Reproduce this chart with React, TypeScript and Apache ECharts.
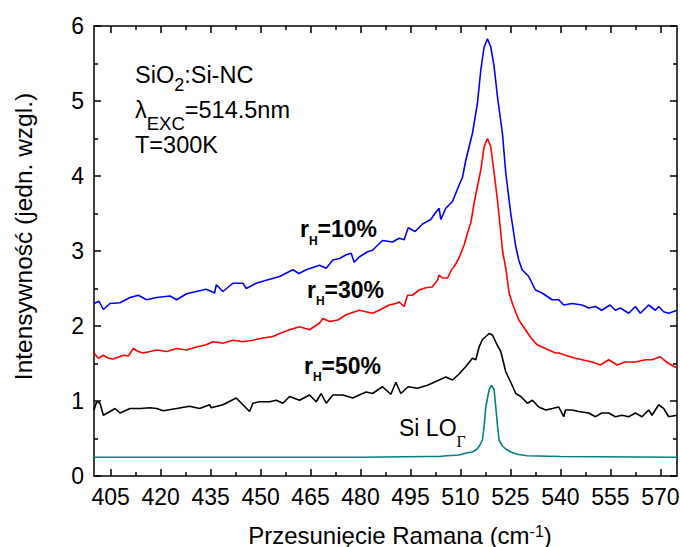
import React, { useEffect, useRef } from 'react';
import * as echarts from 'echarts';

const xTickLabels = [405, 420, 435, 450, 465, 480, 495, 510, 525, 540, 555, 570];
const xMinorTicks = [412.5, 427.5, 442.5, 457.5, 472.5, 487.5, 502.5, 517.5, 532.5, 547.5, 562.5];

const rH10: [number, number][] = [
  [400, 2.3], [401.5, 2.33], [402.8, 2.22], [404.8, 2.3], [407.8, 2.31], [410.8, 2.38], [413.3, 2.41],
  [415.8, 2.35], [418.8, 2.38], [422.8, 2.4], [424.8, 2.35], [427.8, 2.43], [430.7, 2.46], [433.7, 2.49],
  [436.2, 2.44], [436.7, 2.55], [438.7, 2.46], [441.7, 2.57], [444.7, 2.57], [445.7, 2.5], [448.7, 2.57],
  [451.7, 2.61], [455.7, 2.66], [459.7, 2.75], [461.5, 2.7], [463.7, 2.75], [467.7, 2.81], [469.7, 2.77],
  [471.7, 2.88], [473.7, 2.9], [475.7, 2.95], [477.2, 2.97], [478.1, 2.85], [479.6, 2.92], [482.1, 2.99],
  [483.6, 3.01], [486.6, 3.14], [489.6, 3.12], [491.6, 3.17], [493.1, 3.15], [494.3, 3.31], [496.4, 3.26],
  [498.6, 3.36], [501.1, 3.42], [502.3, 3.5], [503.6, 3.57], [504.1, 3.42], [505.6, 3.57], [507.6, 3.66],
  [509.6, 3.88], [510.6, 3.98], [511.6, 4.21], [513.6, 4.57], [515.1, 4.97], [516.1, 5.41], [517.1, 5.72],
  [518.1, 5.83], [519.1, 5.72], [520.1, 5.46], [521.1, 5.06], [522.6, 4.57], [523.6, 4.04], [525.1, 3.5],
  [526.6, 3.06], [527.5, 2.88], [528.5, 2.75], [530.5, 2.66], [532.5, 2.48], [534.5, 2.44], [537.5, 2.35],
  [539.5, 2.35], [541.0, 2.28], [543.5, 2.3], [546.5, 2.28], [548.5, 2.24], [550.5, 2.26], [552.4, 2.21],
  [554.9, 2.28], [556.5, 2.21], [558.0, 2.24], [560.5, 2.17], [562.5, 2.26], [564.0, 2.17], [566.5, 2.28],
  [568.5, 2.21], [569.5, 2.26], [571.0, 2.19], [572.5, 2.17], [575, 2.21]
];

const rH30: [number, number][] = [
  [400, 1.64], [401.3, 1.57], [402.8, 1.61], [404.3, 1.57], [405.8, 1.56], [408.8, 1.61], [410.3, 1.6],
  [411.8, 1.7], [413.3, 1.66], [414.8, 1.64], [418.8, 1.68], [421.8, 1.66], [424.8, 1.7], [427.8, 1.68],
  [430.7, 1.72], [433.7, 1.75], [435.7, 1.79], [438.7, 1.77], [441.7, 1.81], [444.7, 1.79], [447.7, 1.81],
  [450.7, 1.84], [453.7, 1.86], [455.7, 1.9], [458.7, 1.95], [461.7, 1.99], [464.7, 1.95], [467.7, 2.04],
  [468.7, 2.1], [470.7, 2.06], [473.2, 2.08], [475.7, 2.15], [479.6, 2.21], [483.6, 2.17], [485.6, 2.21],
  [488.6, 2.28], [490.6, 2.3], [491.6, 2.32], [493.1, 2.26], [494.1, 2.41], [495.6, 2.41], [497.6, 2.48],
  [499.6, 2.51], [501.5, 2.52], [503.1, 2.61], [503.6, 2.68], [504.6, 2.64], [506.1, 2.64], [507.6, 2.77],
  [508.1, 2.79], [509.6, 2.91], [511.1, 3.08], [512.1, 3.24], [513.1, 3.37], [514.1, 3.64], [515.1, 3.86],
  [516.1, 4.08], [517.1, 4.39], [518.1, 4.5], [519.1, 4.39], [520.1, 4.04], [521.1, 3.68], [522.1, 3.25],
  [522.6, 3.01], [523.6, 2.77], [524.6, 2.44], [525.6, 2.3], [527.5, 2.08], [529.5, 1.95], [531.2, 1.84],
  [533.0, 1.75], [534.5, 1.72], [536.5, 1.68], [538.5, 1.64], [539.5, 1.64], [541.5, 1.61], [544.5, 1.57],
  [546.5, 1.55], [549.5, 1.52], [552.0, 1.48], [554.5, 1.55], [557.0, 1.48], [559.5, 1.52], [562.5, 1.52],
  [565.5, 1.55], [567.5, 1.55], [570.0, 1.59], [571.0, 1.55], [572.5, 1.5], [575, 1.44]
];

const rH50: [number, number][] = [
  [400, 0.88], [400.8, 0.99], [401.8, 0.97], [402.8, 0.81], [404.8, 0.86], [406.3, 0.9], [407.8, 0.84],
  [410.8, 0.9], [413.8, 0.9], [416.8, 0.91], [418.8, 0.9], [420.8, 0.87], [424.8, 0.9], [428.7, 0.93],
  [431.7, 0.9], [434.7, 0.95], [435.2, 0.91], [438.7, 0.95], [442.7, 1.04], [444.7, 0.95], [446.7, 0.86],
  [447.7, 0.97], [449.7, 0.99], [452.7, 0.99], [454.7, 1.01], [456.7, 0.97], [458.7, 1.06], [461.7, 1.01],
  [464.7, 1.08], [466.7, 0.99], [468.2, 1.1], [469.7, 0.97], [471.7, 1.08], [474.7, 1.08], [477.7, 1.04],
  [479.6, 1.08], [481.7, 1.12], [483.6, 1.1], [486.6, 1.19], [489.1, 1.09], [490.6, 1.25], [492.1, 1.1],
  [494.3, 1.19], [497.1, 1.17], [500.1, 1.21], [502.6, 1.26], [503.6, 1.28], [505.6, 1.32], [507.6, 1.28],
  [509.6, 1.36], [511.6, 1.46], [513.6, 1.57], [514.6, 1.55], [515.6, 1.72], [516.6, 1.82], [518.6, 1.9],
  [519.6, 1.88], [521.1, 1.74], [522.1, 1.66], [523.6, 1.39], [525.1, 1.25], [526.6, 1.1], [528.1, 1.06],
  [530.1, 0.97], [531.6, 1.01], [533.5, 0.92], [535.6, 0.88], [537.6, 0.9], [539.5, 0.92], [541.0, 0.79],
  [541.5, 0.88], [543.5, 0.88], [545.5, 0.86], [548.5, 0.84], [550.5, 0.79], [552.4, 0.84], [554.5, 0.84],
  [556.5, 0.79], [558.5, 0.81], [560.5, 0.79], [562.5, 0.84], [564.5, 0.79], [566.5, 0.88], [567.5, 0.81],
  [569.5, 0.95], [571.0, 0.9], [572.5, 0.79], [575, 0.81]
];

const siRef: [number, number][] = [
  [400, 0.25], [440, 0.25], [480, 0.25], [500, 0.26], [503.6, 0.26], [506, 0.27], [509.6, 0.28],
  [512, 0.31], [513.6, 0.32], [515, 0.36], [515.8, 0.41], [516.6, 0.48], [517.1, 0.66], [517.6, 0.92],
  [518.6, 1.15], [519.3, 1.21], [520.1, 1.15], [520.6, 0.92], [521.1, 0.68], [521.6, 0.48], [522.6, 0.4],
  [523.6, 0.36], [525.1, 0.32], [527, 0.29], [530, 0.27], [540, 0.26], [575, 0.25]
];

const FONT = '"Liberation Sans", Arial, Helvetica, sans-serif';

export default function App() {
  const ref = useRef<HTMLDivElement>(null);
  useEffect(() => {
    const chart = echarts.init(ref.current as HTMLDivElement, null, { renderer: 'svg' });
    const rect = { left: 94, right: 3, top: 26, bottom: 71, containLabel: false, outerBoundsMode: 'none' };
    const line = { color: '#000', width: 1.5 };
    const majorTick = (vals: number[]) => ({ show: true, inside: true, length: 7, customValues: vals, lineStyle: line });
    const minorTickAx = (vals: number[]) => ({ show: true, inside: true, length: 4, customValues: vals, lineStyle: line });
    const labelFont = { fontSize: 23, color: '#000', fontFamily: FONT };

    const series = [
      { data: rH10, color: '#0000ff' },
      { data: rH30, color: '#ff0000' },
      { data: rH50, color: '#000000' },
      { data: siRef, color: '#008080' }
    ].map((s) => ({
      type: 'line',
      xAxisIndex: 0,
      yAxisIndex: 0,
      data: s.data,
      showSymbol: false,
      symbol: 'none',
      lineStyle: { color: s.color, width: 1.6 },
      itemStyle: { color: s.color },
      clip: true
    }));

    const text = (x: number, y: number, t: string, rich: any) => ({
      type: 'text',
      x,
      y,
      style: { text: t, rich, align: 'left', verticalAlign: 'middle', fill: '#000' }
    });

    const reg = (size: number, extra: any = {}) => ({ fontSize: size, fontFamily: FONT, color: '#000', ...extra });
    const bold = (size: number, extra: any = {}) => ({ fontSize: size, fontFamily: FONT, fontWeight: 'bold', color: '#000', ...extra });

    const option: any = {
      animation: false,
      backgroundColor: '#ffffff',
      grid: [rect, rect],
      xAxis: [
        {
          type: 'value', gridIndex: 0, position: 'bottom', min: 400, max: 575,
          axisLine: { show: true, onZero: false, lineStyle: line },
          axisTick: majorTick(xTickLabels),
          axisLabel: { show: true, customValues: xTickLabels, margin: 9, ...labelFont },
          splitLine: { show: false },
          name: 'Przesunięcie Ramana (cm{s|-1})',
          nameLocation: 'middle',
          nameGap: 49,
          nameTextStyle: {
            fontSize: 24, lineHeight: 20, fontFamily: FONT, color: '#000', padding: [0, 0, 0, 29],
            rich: { s: { fontSize: 16, lineHeight: 12, fontFamily: FONT, color: '#000', padding: [0, 0, 8, 0] } }
          }
        },
        {
          type: 'value', gridIndex: 0, position: 'top', min: 400, max: 575,
          axisLine: { show: true, onZero: false, lineStyle: line },
          axisTick: majorTick(xTickLabels),
          axisLabel: { show: false },
          splitLine: { show: false }
        },
        {
          type: 'value', gridIndex: 1, position: 'bottom', min: 400, max: 575,
          axisLine: { show: false },
          axisTick: minorTickAx(xMinorTicks),
          axisLabel: { show: false },
          splitLine: { show: false }
        },
        {
          type: 'value', gridIndex: 1, position: 'top', min: 400, max: 575,
          axisLine: { show: false },
          axisTick: minorTickAx(xMinorTicks),
          axisLabel: { show: false },
          splitLine: { show: false }
        }
      ],
      yAxis: [
        {
          type: 'value', gridIndex: 0, position: 'left', min: 0, max: 6, interval: 1,
          axisLine: { show: true, onZero: false, lineStyle: line },
          axisTick: { show: true, inside: true, length: 7, lineStyle: line },
          minorTick: { show: true, splitNumber: 2, length: 4, lineStyle: line },
          axisLabel: { show: true, margin: 10, ...labelFont },
          splitLine: { show: false },
          minorSplitLine: { show: false },
          name: 'Intensywność (jedn. wzgl.)',
          nameLocation: 'middle',
          nameGap: 58,
          nameRotate: 90,
          nameTextStyle: { fontSize: 24.5, fontFamily: FONT, color: '#000', padding: [0, 0, 0, 29] }
        },
        {
          type: 'value', gridIndex: 0, position: 'right', min: 0, max: 6, interval: 1,
          axisLine: { show: true, onZero: false, lineStyle: line },
          axisTick: { show: true, inside: true, length: 7, lineStyle: line },
          minorTick: { show: true, splitNumber: 2, length: 4, lineStyle: line },
          axisLabel: { show: false },
          splitLine: { show: false },
          minorSplitLine: { show: false }
        },
        {
          type: 'value', gridIndex: 1, min: 0, max: 6, show: false
        }
      ],
      graphic: [
        text(135, 75.3, '{a|SiO}{b|2}{a|:Si-NC}', { a: reg(23.5), b: reg(18, { padding: [19, 0, 0, 0] }) }),
        text(135, 109.5, '{a|\u03bb}{b|EXC}{a|=514.5nm}', { a: reg(23.5), b: reg(18.5, { padding: [28, 0, 0, 0] }) }),
        text(135, 145, '{a|T=300K}', { a: reg(23.5) }),
        text(300, 229.4, '{a|r}{h|H}{a|=10%}', { a: bold(23), h: bold(12, { padding: [23, 0, 0, 0] }) }),
        text(307, 289.9, '{a|r}{h|H}{a|=30%}', { a: bold(23), h: bold(12, { padding: [23, 0, 0, 0] }) }),
        text(304, 365.7, '{a|r}{h|H}{a|=50%}', { a: bold(23), h: bold(12, { padding: [23, 0, 0, 0] }) }),
        text(399, 428, '{a|Si LO}{g|\u0393}', {
          a: reg(23),
          g: { fontSize: 16, fontFamily: '"Liberation Serif", "Times New Roman", serif', color: '#000', padding: [27, 0, 0, 0] }
        })
      ],
      series
    };
    chart.setOption(option);
    return () => chart.dispose();
  }, []);
  return <div ref={ref} style={{ position: 'absolute', left: 0, top: 0, width: 680, height: 547 }} />;
}
